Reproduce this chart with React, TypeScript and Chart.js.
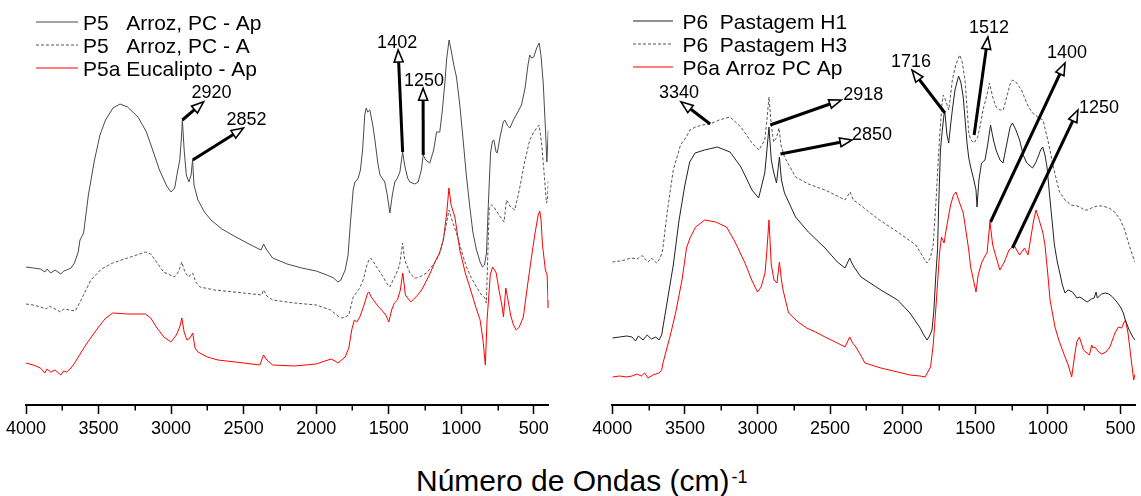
import React, { useEffect, useRef } from 'react';
import { Chart, registerables } from 'chart.js';

Chart.register(...registerables);

const FONT = '"Liberation Sans", Arial, Helvetica, sans-serif';

// ---------- shared axis ----------
const MAJOR_TICKS = [500, 1000, 1500, 2000, 2500, 3000, 3500, 4000];
const MINOR_TICKS = [750, 1250, 1750, 2250, 2750, 3250, 3750];
const X_MIN = 400;
const X_MAX = 4000;
const X_TITLE = 'Número de Ondas (cm)';
const X_TITLE_SUP = '-1';

// ---------- left panel: [wavenumber, value] ----------
const LEFT_LABELS = ['P5   Arroz, PC - Ap', 'P5   Arroz, PC - A', 'P5a Eucalipto - Ap'];
const LEFT_COLORS = ['#4a4a4a', '#555555', '#ff0000'];

const p5Ap: [number, number][] = [
  [4000, 34.5], [3950, 34.25], [3900, 34], [3870, 33.25], [3855, 34], [3830, 33], [3800, 33.75], [3760, 32.75],
  [3740, 33.5], [3720, 33.75], [3690, 34.25], [3666, 35.5], [3640, 38.25], [3628, 41.25], [3603, 43], [3570, 52.5],
  [3528, 61.25], [3490, 67.5], [3452, 71.25], [3400, 74.25], [3352, 75.25], [3300, 74.5], [3228, 72], [3170, 68.25],
  [3127, 63.75], [3080, 58.75], [3030, 54.75], [3000, 53.25], [2975, 54.25], [2956, 58.25], [2940, 61.25], [2930, 66.25],
  [2922, 71.25], [2910, 63.75], [2895, 57.5], [2877, 55.75], [2862, 57.5], [2852, 61.25], [2842, 55], [2815, 51.25],
  [2770, 48.25], [2725, 46.25], [2650, 44], [2553, 42], [2450, 40], [2380, 38.75], [2362, 40.25], [2345, 39],
  [2300, 36.75], [2200, 35.25], [2100, 34.25], [2000, 33.5], [1926, 32.5], [1880, 31.75], [1850, 30.75], [1830, 31.25],
  [1800, 33.75], [1780, 37.5], [1765, 45], [1745, 53.75], [1733, 55.75], [1720, 56.25], [1710, 56.75], [1695, 58.75],
  [1680, 63.75], [1665, 72.5], [1655, 74.25], [1645, 73.25], [1630, 73.75], [1610, 70], [1595, 66.25], [1575, 60.5],
  [1560, 57.5], [1545, 56.75], [1527, 55.75], [1510, 52.5], [1492, 48], [1475, 52.5], [1458, 55.75], [1440, 56.75],
  [1423, 58.25], [1404, 63.25], [1390, 60], [1370, 56.75], [1354, 55.75], [1320, 55.25], [1297, 55.75], [1275, 58.75],
  [1262, 62.5], [1245, 61.25], [1217, 60.5], [1190, 63.75], [1170, 68.25], [1148, 68.25], [1130, 73.75], [1113, 80.5],
  [1100, 86.75], [1084, 91.25], [1070, 88.75], [1050, 84.75], [1033, 82], [1010, 75], [987, 66.25], [965, 57.5],
  [941, 49.5], [920, 43.25], [895, 38.75], [870, 35.75], [854, 34.5], [840, 35], [826, 38], [812, 51.25],
  [798, 63], [785, 66], [775, 66.25], [760, 63.25], [752, 63], [730, 67.5], [710, 70.75], [700, 71.25],
  [680, 69.75], [665, 69.25], [640, 71.25], [610, 73.25], [585, 75], [560, 79.25], [540, 85], [528, 87.5],
  [515, 86.75], [500, 87], [480, 89.25], [463, 90.5], [450, 87.25], [435, 80.5], [420, 69.25], [410, 60.75], [400, 68.75],
];

const p5A: [number, number][] = [
  [4000, 25.25], [3950, 25], [3900, 24.5], [3860, 24], [3840, 24.75], [3800, 24], [3760, 23.25], [3740, 24],
  [3700, 23.75], [3660, 23.5], [3620, 26.25], [3553, 31.25], [3480, 34], [3402, 35.5], [3300, 36.75], [3177, 38.25],
  [3140, 37.75], [3100, 35.75], [3052, 33.25], [2977, 32], [2950, 33.25], [2926, 35.75], [2905, 33.25], [2880, 32],
  [2851, 33], [2830, 30.75], [2801, 29.5], [2700, 28.75], [2500, 28], [2375, 27.5], [2363, 28.75], [2340, 27.25],
  [2300, 26.25], [2150, 25.5], [2000, 25], [1900, 23.75], [1850, 22.25], [1824, 21.75], [1800, 22], [1775, 22.5],
  [1745, 27], [1724, 28], [1700, 29.25], [1676, 31.25], [1650, 35], [1636, 36.25], [1625, 36.75], [1600, 35.5],
  [1584, 34.5], [1560, 33.25], [1538, 32], [1515, 30.5], [1492, 29.5], [1470, 31.25], [1446, 33], [1425, 35],
  [1404, 40.5], [1390, 36.25], [1354, 33], [1323, 31.75], [1308, 31.75], [1275, 32.25], [1239, 33], [1200, 34.75],
  [1170, 36.25], [1145, 38.25], [1125, 41.25], [1100, 45.75], [1084, 48.75], [1060, 45.75], [1033, 43], [1000, 38.75],
  [964, 34.5], [930, 31.75], [895, 29.5], [860, 27.5], [837, 26.75], [827, 25.5], [818, 36.25], [807, 49.5],
  [790, 50], [775, 49.5], [740, 47.5], [705, 45.75], [688, 51.25], [660, 49.5], [631, 48.75], [600, 53.75],
  [560, 61.25], [528, 66.25], [500, 68.25], [480, 69.25], [463, 70], [445, 65], [425, 56.25], [413, 50.5],
  [405, 51.25], [400, 56.25],
];

const p5aEuc: [number, number][] = [
  [4000, 10.5], [3950, 10], [3900, 9.25], [3870, 8], [3855, 9], [3830, 8.25], [3800, 8.75], [3760, 7.5],
  [3741, 8.5], [3720, 8.25], [3690, 9.25], [3660, 10.75], [3640, 12], [3579, 15.5], [3500, 19.5], [3450, 21.75],
  [3402, 23], [3300, 22.75], [3177, 22.75], [3140, 21.75], [3102, 19.5], [3050, 17], [3001, 15.75], [2964, 17.5],
  [2940, 19.5], [2926, 21.75], [2910, 18.25], [2891, 16.25], [2870, 16.75], [2851, 18], [2835, 14.25], [2815, 13.25],
  [2750, 12], [2677, 11.25], [2500, 10.5], [2388, 10], [2363, 12.5], [2340, 11.25], [2300, 10], [2150, 9.75],
  [2000, 10.25], [1898, 11.5], [1870, 11], [1850, 10.5], [1800, 12], [1775, 14.25], [1755, 18.75], [1737, 21.25],
  [1720, 20.75], [1699, 22], [1670, 25], [1645, 28], [1636, 28.25], [1620, 27], [1580, 25], [1549, 23.75],
  [1520, 22.5], [1499, 20.75], [1480, 23.75], [1461, 25.5], [1440, 26.25], [1420, 28.75], [1403, 33], [1385, 27.5],
  [1348, 25.75], [1300, 27.5], [1273, 28.75], [1220, 32.5], [1175, 36.25], [1150, 38], [1123, 41.25], [1100, 48],
  [1085, 54.25], [1070, 50], [1044, 47], [1010, 38.75], [972, 33], [935, 28.75], [900, 24.5], [870, 21.25],
  [850, 16.25], [834, 10], [822, 21.25], [800, 32.5], [784, 34.5], [770, 33.75], [759, 33], [740, 28.75],
  [720, 25], [709, 22], [693, 29.25], [680, 26.75], [660, 22.5], [640, 20], [621, 18.75], [600, 19.5],
  [572, 22], [540, 30.75], [509, 38.75], [490, 43.25], [470, 47.5], [459, 48.5], [450, 46.25], [440, 40],
  [420, 33.75], [408, 32.5], [402, 26.25], [400, 24.25],
];

// ---------- right panel: [wavenumber, value] ----------
const RIGHT_LABELS = ['P6  Pastagem H1', 'P6  Pastagem H3', 'P6a Arroz PC Ap'];
const RIGHT_COLORS = ['#222222', '#555555', '#ff0000'];

const p6H1: [number, number][] = [
  [4000, 16.75], [3950, 17], [3900, 17.25], [3864, 17], [3840, 16], [3820, 17.25], [3788, 16.25], [3760, 17.5],
  [3730, 16.5], [3700, 17], [3678, 16.25], [3660, 17.5], [3651, 19.5], [3620, 26.25], [3580, 35], [3540, 46.25],
  [3500, 55], [3467, 60.75], [3430, 63], [3365, 63.75], [3277, 64.5], [3189, 63.25], [3114, 59.5], [3038, 53.75],
  [2992, 51.75], [2950, 58], [2935, 63.75], [2921, 69.5], [2905, 61.25], [2889, 58.25], [2869, 55.5], [2849, 62],
  [2835, 56.25], [2814, 53], [2738, 47], [2650, 43.25], [2535, 39.25], [2450, 35.75], [2397, 34.25], [2365, 36.75],
  [2350, 35.5], [2335, 34.5], [2287, 32], [2150, 28.75], [2035, 26.25], [1950, 23], [1884, 19.5], [1850, 17.25],
  [1833, 16.25], [1815, 17.25], [1798, 18.75], [1785, 23.75], [1771, 33], [1760, 38.75], [1752, 50], [1740, 63.75],
  [1729, 68], [1716, 72.5], [1709, 73], [1695, 67.5], [1683, 65.5], [1670, 70], [1658, 73.75], [1640, 78.75],
  [1615, 82.25], [1600, 80.75], [1583, 77], [1570, 71.25], [1557, 65.5], [1545, 61.75], [1532, 59.5], [1510, 56.25],
  [1495, 53.75], [1488, 49.5], [1475, 56.25], [1457, 60.5], [1433, 61.25], [1415, 65], [1395, 70], [1375, 66.25],
  [1357, 63.75], [1330, 61.25], [1309, 60.5], [1282, 65.5], [1260, 69.5], [1244, 70.5], [1220, 68.75], [1195, 66.25],
  [1170, 62.5], [1145, 60.5], [1106, 59.25], [1085, 60.5], [1068, 62], [1050, 63.75], [1036, 64.5], [1020, 62.5],
  [1006, 59.5], [985, 51.25], [955, 40], [935, 35.75], [918, 33], [900, 30], [882, 28], [860, 28.75],
  [830, 28.25], [800, 26.75], [779, 27], [750, 26.25], [729, 25.75], [700, 26.5], [681, 26.75], [668, 28.25],
  [660, 26.75], [630, 27.75], [606, 28], [580, 27.75], [554, 27], [525, 25.75], [500, 24.5], [480, 23],
  [467, 21.25], [440, 18.75], [415, 17], [400, 16.25],
];

const p6H3: [number, number][] = [
  [4000, 35.75], [3950, 36], [3913, 36.25], [3870, 36.75], [3830, 36.5], [3800, 37.25], [3788, 37.25], [3770, 36.25],
  [3753, 35.75], [3730, 36.75], [3710, 36], [3694, 35.5], [3670, 36.75], [3653, 38.75], [3620, 48.75], [3580, 58.75],
  [3530, 65], [3490, 67], [3465, 68.75], [3426, 69.5], [3380, 70], [3327, 70.25], [3265, 71.25], [3189, 72],
  [3114, 69.5], [3038, 65.5], [2990, 63.75], [2950, 66.25], [2935, 71.25], [2921, 77], [2905, 70], [2889, 65.75],
  [2870, 66.75], [2852, 69.25], [2838, 65], [2814, 62], [2738, 57], [2650, 55.25], [2535, 53.75], [2450, 52.25],
  [2397, 51.25], [2362, 53.25], [2340, 51.25], [2310, 50.5], [2250, 48.75], [2160, 46.25], [2035, 43.25], [1909, 40],
  [1860, 37], [1833, 35.5], [1810, 36.75], [1790, 40], [1770, 51.25], [1755, 61.25], [1744, 68], [1730, 75],
  [1720, 77.5], [1705, 76.25], [1683, 73.75], [1670, 77.5], [1658, 81.25], [1635, 85], [1607, 87.5], [1590, 85.75],
  [1571, 81.25], [1558, 75], [1545, 68], [1530, 66.25], [1509, 65.5], [1483, 67], [1465, 70], [1447, 73.75],
  [1420, 77.5], [1402, 80.5], [1380, 77], [1357, 74.5], [1330, 73.75], [1307, 73.75], [1280, 77.5], [1260, 80.25],
  [1244, 81.25], [1220, 80.75], [1182, 78.75], [1140, 75], [1106, 73], [1070, 72], [1034, 71.25], [1000, 66.25],
  [958, 58.75], [920, 53.25], [882, 51.25], [840, 50], [800, 49.75], [779, 49.5], [750, 48.75], [729, 48.75],
  [700, 49.25], [660, 49.75], [630, 49.75], [600, 49.5], [579, 49.25], [540, 48.25], [500, 46.25], [470, 43.75],
  [451, 41.25], [430, 38.75], [400, 35.75],
];

const p6aArroz: [number, number][] = [
  [4000, 7], [3950, 7.25], [3900, 7], [3864, 7.25], [3830, 7.75], [3800, 7.25], [3777, 8], [3754, 6.75],
  [3720, 7.5], [3700, 7.75], [3678, 8], [3660, 8.75], [3651, 10.5], [3600, 17.5], [3564, 23], [3520, 31.25],
  [3489, 39.25], [3465, 41.75], [3426, 44.5], [3364, 46.25], [3288, 45.75], [3213, 44.5], [3162, 41.25], [3138, 39.5],
  [3086, 35.5], [3040, 31.25], [3000, 28.25], [2975, 29.5], [2948, 33], [2935, 38.75], [2921, 46.25], [2905, 35],
  [2886, 31.25], [2866, 30.5], [2849, 35.75], [2835, 31.25], [2824, 28.75], [2786, 23], [2720, 20.75], [2661, 19.25],
  [2600, 18.25], [2535, 17], [2450, 15.5], [2397, 14.5], [2365, 17], [2345, 15.5], [2322, 14.5], [2290, 12.5],
  [2260, 10.5], [2150, 9.25], [2035, 8.25], [1950, 7.5], [1880, 7.25], [1846, 7], [1808, 9.5], [1790, 15],
  [1771, 24.5], [1746, 38], [1733, 42], [1715, 40.5], [1695, 45], [1670, 50], [1650, 52.5], [1633, 53.25],
  [1615, 51.25], [1583, 48], [1560, 42.5], [1545, 38.75], [1532, 34.5], [1510, 30.75], [1495, 28.25], [1480, 32.5],
  [1457, 35.5], [1430, 37.5], [1419, 38], [1399, 45.75], [1380, 40], [1357, 37], [1331, 33.75], [1300, 35.75],
  [1268, 38.75], [1250, 39.25], [1233, 40], [1215, 38.75], [1195, 37.5], [1161, 39.25], [1137, 37.5], [1120, 41.25],
  [1100, 45.75], [1082, 48.75], [1060, 46.25], [1034, 43], [1020, 40], [1000, 32.5], [985, 26.25], [951, 19.5],
  [925, 16.25], [882, 12], [860, 10], [836, 7], [815, 12.5], [801, 15.75], [783, 17], [770, 15.5],
  [755, 13.75], [730, 13], [714, 12.5], [698, 15], [690, 14.25], [676, 14.5], [650, 13.25], [630, 12.75],
  [600, 13.25], [573, 14.5], [538, 18], [515, 19.5], [492, 19.25], [478, 20.5], [465, 21.25], [448, 18],
  [430, 12.5], [409, 6.25], [400, 7.75],
];

// ---------- band annotations (arrow from a point on the curve to a label) ----------
type Ann = { text: string; from: [number, number]; to: [number, number]; dx: number; dy: number };

const LEFT_ANN: Ann[] = [
  { text: '2920', from: [2922, 71.25], to: [2776, 75.8], dx: 8, dy: -9 },
  { text: '2852', from: [2851, 61.25], to: [2501, 69.25], dx: 3, dy: -8 },
  { text: '1402', from: [1404, 63.25], to: [1435, 88.75], dx: -1, dy: -7 },
  { text: '1250', from: [1262, 62.5], to: [1263, 79.2], dx: 1, dy: -7 },
];

const RIGHT_ANN: Ann[] = [
  { text: '3340', from: [3326, 70.25], to: [3527, 75.8], dx: -2, dy: -9 },
  { text: '2918', from: [2912, 70], to: [2423, 76.25], dx: 22, dy: -5 },
  { text: '2850', from: [2842, 62.75], to: [2349, 66.25], dx: 20, dy: -5 },
  { text: '1716', from: [1709, 73], to: [1936, 83.75], dx: -1, dy: -8 },
  { text: '1512', from: [1508, 67.5], to: [1413, 92], dx: 1, dy: -9 },
  { text: '1400', from: [1395, 45.75], to: [882, 85.5], dx: 2, dy: -10 },
  { text: '1250', from: [1244, 39.25], to: [793, 73.75], dx: 21, dy: -2 },
];

type LegendOpts = { x1: number; x2: number; textX: number; baseline: number; rowH: number };
type PanelDecor = { ann: Ann[]; legend: LegendOpts; labels: string[]; colors: string[]; dashes: number[][] };

function makeDecorPlugin(decor: PanelDecor) {
  return {
    id: 'decor',
    afterDraw(chart: any) {
      const ctx: CanvasRenderingContext2D = chart.ctx;
      const xs = chart.scales.x;
      const ys = chart.scales.y;
      const bottom = chart.chartArea.bottom;
      ctx.save();
      // minor ticks
      ctx.strokeStyle = '#000';
      ctx.lineWidth = 1.5;
      MINOR_TICKS.forEach((v) => {
        const px = Math.round(xs.getPixelForValue(v)) + 0.25;
        ctx.beginPath();
        ctx.moveTo(px, bottom);
        ctx.lineTo(px, bottom + 5.5);
        ctx.stroke();
      });
      // arrows
      decor.ann.forEach((a) => {
        const x1 = xs.getPixelForValue(a.from[0]);
        const y1 = ys.getPixelForValue(a.from[1]);
        const x2 = xs.getPixelForValue(a.to[0]);
        const y2 = ys.getPixelForValue(a.to[1]);
        const ang = Math.atan2(y2 - y1, x2 - x1);
        const hl = 12;
        const hw = 4.5;
        const bx = x2 - hl * Math.cos(ang);
        const by = y2 - hl * Math.sin(ang);
        ctx.setLineDash([]);
        ctx.strokeStyle = '#000';
        ctx.lineWidth = 3;
        ctx.lineCap = 'butt';
        ctx.beginPath();
        ctx.moveTo(x1, y1);
        ctx.lineTo(bx, by);
        ctx.stroke();
        ctx.beginPath();
        ctx.moveTo(x2, y2);
        ctx.lineTo(bx + hw * Math.sin(ang), by - hw * Math.cos(ang));
        ctx.lineTo(bx - hw * Math.sin(ang), by + hw * Math.cos(ang));
        ctx.closePath();
        ctx.fillStyle = '#fff';
        ctx.fill();
        ctx.lineWidth = 1.6;
        ctx.lineJoin = 'miter';
        ctx.stroke();
        ctx.fillStyle = '#000';
        ctx.font = `18px ${FONT}`;
        ctx.textAlign = 'center';
        ctx.textBaseline = 'middle';
        ctx.fillText(a.text, x2 + a.dx, y2 + a.dy);
      });
      // legend (lines soft, like the antialiased originals)
      const lg = decor.legend;
      decor.labels.forEach((label, i) => {
        const base = lg.baseline + i * lg.rowH;
        const ly = Math.round(base - 8);
        ctx.strokeStyle = decor.colors[i];
        ctx.lineWidth = 1.2;
        ctx.lineCap = 'butt';
        ctx.setLineDash(decor.dashes[i]);
        ctx.beginPath();
        ctx.moveTo(lg.x1, ly);
        ctx.lineTo(lg.x2, ly);
        ctx.stroke();
        ctx.setLineDash([]);
        ctx.fillStyle = '#000';
        ctx.font = `21px ${FONT}`;
        ctx.textAlign = 'left';
        ctx.textBaseline = 'alphabetic';
        ctx.fillText(label, lg.textX, base);
      });
      ctx.restore();
    },
  };
}

const toXY = (arr: [number, number][]) => arr.map(([x, y]) => ({ x, y }));

function makeConfig(
  labels: string[],
  series: [number, number][][],
  colors: string[],
  dashes: number[][],
  ann: Ann[],
  legend: LegendOpts,
  pad: { left: number; right: number }
): any {
  return {
    type: 'line',
    data: {
      datasets: series.map((s, i) => ({
        label: labels[i],
        data: toXY(s),
        borderColor: colors[i],
        borderWidth: 1,
        borderDash: dashes[i],
        pointRadius: 0,
        fill: false,
        tension: 0,
      })),
    },
    options: {
      responsive: false,
      animation: false,
      devicePixelRatio: 1,
      layout: { padding: { left: pad.left, right: pad.right, top: 5, bottom: 0 } },
      plugins: {
        legend: { display: false },
        tooltip: { enabled: false },
      },
      scales: {
        x: {
          type: 'linear',
          reverse: true,
          min: X_MIN,
          max: X_MAX,
          afterBuildTicks: (s: any) => {
            s.ticks = MAJOR_TICKS.map((v) => ({ value: v }));
          },
          afterFit: (s: any) => {
            s.height = 40;
          },
          ticks: {
            autoSkip: false,
            maxRotation: 0,
            minRotation: 0,
            padding: 4,
            color: '#000',
            font: { family: FONT, size: 18 },
            callback: (v: any) => String(v),
          },
          grid: {
            display: true,
            drawOnChartArea: false,
            drawTicks: true,
            tickLength: 9,
            tickWidth: 1.5,
            tickColor: '#000',
          },
          border: { display: true, color: '#000', width: 2 },
        },
        y: { display: false, min: 0, max: 100 },
      },
    },
    plugins: [makeDecorPlugin({ ann, legend, labels, colors, dashes })],
  };
}

function Panel(props: { config: any; left: number; width: number }) {
  const ref = useRef<HTMLCanvasElement | null>(null);
  useEffect(() => {
    if (!ref.current) return;
    const chart = new Chart(ref.current, props.config);
    return () => chart.destroy();
  }, []);
  return (
    <canvas
      ref={ref}
      width={props.width}
      height={445}
      style={{ position: 'absolute', left: props.left, top: 0, width: props.width, height: 445 }}
    />
  );
}

export default function App() {
  const leftCfg = makeConfig(
    LEFT_LABELS,
    [p5Ap, p5A, p5aEuc],
    LEFT_COLORS,
    [[], [3, 2], []],
    LEFT_ANN,
    { x1: 36, x2: 78, textX: 83, baseline: 30, rowH: 23 },
    { left: 26, right: 21.7 }
  );
  const rightCfg = makeConfig(
    RIGHT_LABELS,
    [p6H1, p6H3, p6aArroz],
    RIGHT_COLORS,
    [[], [3, 2], []],
    RIGHT_ANN,
    { x1: 63, x2: 103, textX: 112.5, baseline: 28.5, rowH: 23.3 },
    { left: 42.3, right: 6 }
  );
  return (
    <div
      style={{
        position: 'fixed',
        left: 0,
        top: 0,
        width: 1141,
        height: 496,
        background: '#fff',
        overflow: 'hidden',
      }}
    >
      <Panel config={leftCfg} left={0} width={570} />
      <Panel config={rightCfg} left={570} width={571} />
      <div
        style={{
          position: 'absolute',
          left: 416,
          top: 466,
          whiteSpace: 'nowrap',
          fontFamily: FONT,
          fontSize: 30,
          lineHeight: '30px',
          color: '#000',
        }}
      >
        {X_TITLE}
        <span style={{ fontSize: 18, verticalAlign: 'top', lineHeight: '18px', marginLeft: 2, position: 'relative', top: 2 }}>
          {X_TITLE_SUP}
        </span>
      </div>
    </div>
  );
}
